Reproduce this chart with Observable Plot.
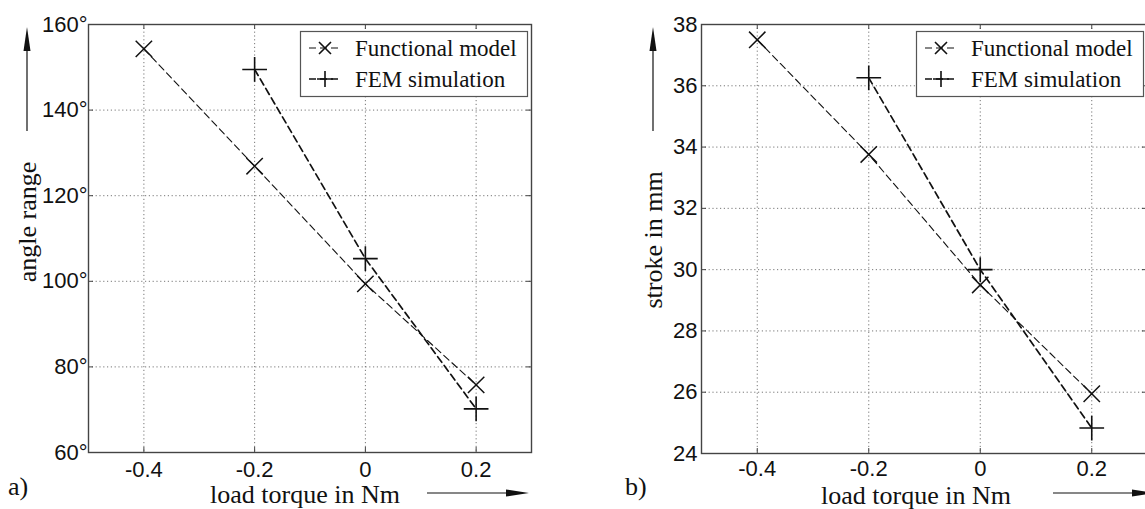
<!DOCTYPE html>
<html><head><meta charset="utf-8">
<script src="https://cdn.jsdelivr.net/npm/d3@7"></script>
<script src="https://cdn.jsdelivr.net/npm/@observablehq/plot@0.6"></script>
<style>
html,body{margin:0;padding:0;background:#fff;}
#wrap{position:relative;width:1145px;height:509px;overflow:hidden;background:#fff;}
#wrap > svg, #wrap > div{position:absolute;}
</style></head><body><div id="wrap"></div>
<script>
// ---- data ----
const torque = [-0.4, -0.2, 0, 0.2];
const femTorque = [-0.2, 0, 0.2];
const angleModel = [154.3, 126.9, 99.4, 75.8];
const angleFEM = [149.5, 105.3, 70.2];
const strokeModel = [37.5, 33.76, 29.5, 25.95];
const strokeFEM = [36.26, 30.0, 24.83];
const xTicks = [-0.4, -0.2, 0, 0.2];
const angleTicks = [60, 80, 100, 120, 140, 160];
const strokeTicks = [24, 26, 28, 30, 32, 34, 36, 38];
const seriesNames = ["Functional model", "FEM simulation"];
const panelLabels = ["a)", "b)"];
const xTitle = "load torque in Nm";
const yTitles = ["angle range", "stroke in mm"];

const INK = "#111";
function panel({model, fem, yDomain, yTicks, yFmt, left, width, height, mt, mr, mb, ml, tp, xp}) {
  const modelData = torque.map((x, i) => ({x, y: model[i]}));
  const femData = femTorque.map((x, i) => ({x, y: fem[i]}));
  const ph = height - mt - mb, pw = width - ml - mr;
  const svg = Plot.plot({
    width, height, marginTop: mt, marginRight: mr, marginBottom: mb, marginLeft: ml,
    style: {fontFamily: "'Liberation Sans', Arial, sans-serif", fontSize: "22px", color: INK, background: "transparent", overflow: "visible"},
    x: {domain: [-0.5, 0.3]},
    y: {domain: yDomain},
    marks: [
      Plot.gridX({ticks: xTicks, stroke: "#777", strokeOpacity: 1, strokeWidth: 1, strokeDasharray: "1.2,2.6"}),
      Plot.gridY({ticks: yTicks, stroke: "#777", strokeOpacity: 1, strokeWidth: 1, strokeDasharray: "1.2,2.6"}),
      Plot.tickX(xTicks, {x: d => d, insetTop: ph - 5, stroke: "#444"}),
      Plot.tickX(xTicks, {x: d => d, insetBottom: ph - 5, stroke: "#444"}),
      Plot.tickY(yTicks, {y: d => d, insetRight: pw - 5, stroke: "#444"}),
      Plot.tickY(yTicks, {y: d => d, insetLeft: pw - 5, stroke: "#444"}),
      Plot.frame({stroke: "#444", strokeWidth: 1.4}),
      Plot.axisX({ticks: xTicks, tickSize: 0, tickPadding: xp, tickFormat: d => String(d), label: null}),
      Plot.axisY({ticks: yTicks, tickSize: 0, tickPadding: tp, tickFormat: yFmt, label: null}),
      Plot.line(modelData, {x: "x", y: "y", stroke: INK, strokeWidth: 1.1, strokeDasharray: "7,4"}),
      Plot.line(femData, {x: "x", y: "y", stroke: INK, strokeWidth: 1.7, strokeDasharray: "7,4"}),
      Plot.dot(modelData, {x: "x", y: "y", symbol: "times", r: 7.5, stroke: INK, strokeWidth: 1.5}),
      Plot.dot(femData, {x: "x", y: "y", symbol: "plus", r: 8, stroke: INK, strokeWidth: 1.6})
    ]
  });
  svg.style.left = left + "px";
  svg.style.top = "0px";
  return svg;
}

const wrap = document.getElementById("wrap");
wrap.appendChild(panel({model: angleModel, fem: angleFEM, yDomain: [60, 160], yTicks: angleTicks,
  yFmt: d => d + "°", left: 0, width: 560, height: 509, mt: 24, mr: 29, mb: 57, ml: 88, tp: 1, xp: 9}));
wrap.appendChild(panel({model: strokeModel, fem: strokeFEM, yDomain: [24, 38], yTicks: strokeTicks,
  yFmt: d => String(d), left: 613, width: 536, height: 509, mt: 24, mr: 2, mb: 56, ml: 88, tp: 4, xp: 7}));

// ---- overlay: titles, arrows, legends ----
const NS = "http://www.w3.org/2000/svg";
const ov = document.createElementNS(NS, "svg");
ov.setAttribute("width", 1145); ov.setAttribute("height", 509);
ov.style.left = "0px"; ov.style.top = "0px";
wrap.appendChild(ov);
function el(tag, attrs, text) {
  const e = document.createElementNS(NS, tag);
  for (const k in attrs) e.setAttribute(k, attrs[k]);
  if (text != null) e.textContent = text;
  ov.appendChild(e);
  return e;
}
const serif = "'Liberation Serif','Times New Roman',serif";
function decorate(ox, yTitle, yTitleCy, xTitleCx, xTitleY, label, labelX, legendX) {
  el("text", {x: 0, y: 0, transform: `translate(${ox + 36},${yTitleCy}) rotate(-90)`, "text-anchor": "middle",
    "font-family": serif, "font-size": 26, fill: INK}, yTitle);
  el("line", {x1: ox + 27, y1: 131, x2: ox + 27, y2: 45, stroke: INK, "stroke-width": 1.2});
  el("path", {d: `M${ox + 27},27 L${ox + 30.5},51 L${ox + 23.5},51 Z`, fill: INK});
  el("text", {x: xTitleCx, y: xTitleY, "text-anchor": "middle", "font-family": serif, "font-size": 26, fill: INK}, xTitle);
  const ax0 = ox + 427, ax1 = ox + 529;
  el("line", {x1: ax0, y1: 493, x2: ax1 - 15, y2: 493, stroke: INK, "stroke-width": 1.2});
  el("path", {d: `M${ax1},493 L${ax1 - 23},489.5 L${ax1 - 23},496.5 Z`, fill: INK});
  el("text", {x: labelX, y: 495, "font-family": serif, "font-size": 26, fill: INK}, label);
  el("rect", {x: legendX + 0.5, y: 31.5, width: 227, height: 65, fill: "#fff", stroke: "#555", "stroke-width": 1.2});
  const rows = [48, 79];
  rows.forEach((cy, i) => {
    el("line", {x1: legendX + 9, y1: cy, x2: legendX + 42, y2: cy, stroke: INK, "stroke-width": i ? 1.6 : 1.1, "stroke-dasharray": "7,4"});
    const mx = legendX + 25;
    if (i === 0) {
      el("path", {d: `M${mx - 6},${cy - 6}L${mx + 6},${cy + 6}M${mx - 6},${cy + 6}L${mx + 6},${cy - 6}`, stroke: INK, "stroke-width": 1.6, fill: "none"});
    } else {
      el("path", {d: `M${mx - 8},${cy}L${mx + 8},${cy}M${mx},${cy - 8}L${mx},${cy + 8}`, stroke: INK, "stroke-width": 1.6, fill: "none"});
    }
    el("text", {x: legendX + 55, y: cy + 8, "font-family": serif, "font-size": 23, fill: INK}, seriesNames[i]);
  });
}
decorate(0, yTitles[0], 222, 305, 503, panelLabels[0], 8, 300);
decorate(626, yTitles[1], 240, 916, 504, panelLabels[1], 625, 916);
</script></body></html>
